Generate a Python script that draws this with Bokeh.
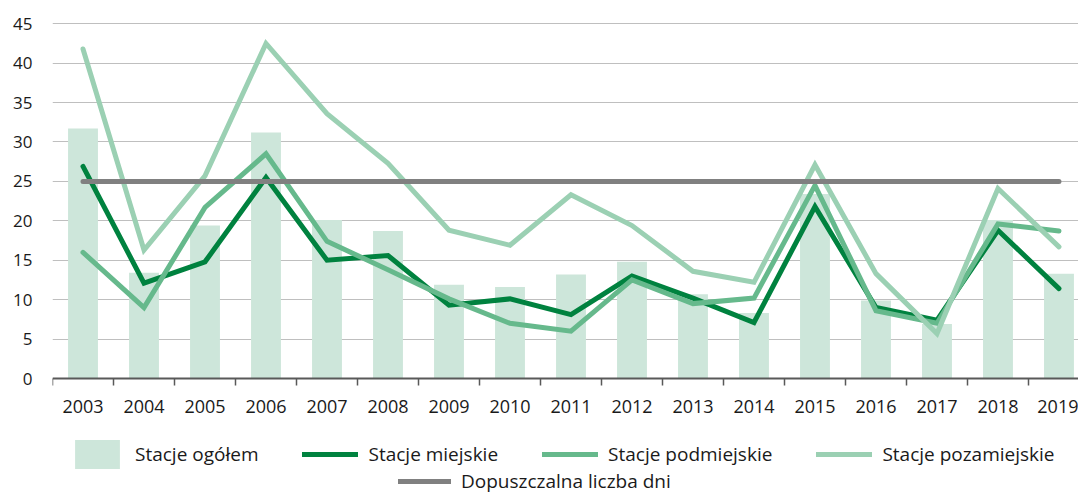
from bokeh.plotting import figure
from bokeh.models import Range1d, FixedTicker, Legend, LegendItem, ColumnDataSource
from bokeh.embed import file_html
from bokeh.resources import INLINE

years = list(range(2003, 2020))
tick_labels = [str(y) for y in years]
y_ticks = [0, 5, 10, 15, 20, 25, 30, 35, 40, 45]

ogolem = [31.7, 13.4, 19.4, 31.2, 20.1, 18.7, 11.9, 11.6, 13.2, 14.8, 10.7, 8.3, 23.4, 9.9, 6.9, 20.1, 13.3]
miejskie = [26.9, 12.1, 14.8, 25.5, 15.0, 15.6, 9.3, 10.1, 8.1, 13.0, 10.2, 7.1, 21.8, 9.0, 7.4, 18.8, 11.4]
podmiejskie = [16.0, 9.0, 21.7, 28.5, 17.4, 13.8, 10.1, 7.0, 6.0, 12.5, 9.5, 10.2, 24.5, 8.6, 7.0, 19.6, 18.7]
pozamiejskie = [41.8, 16.3, 25.7, 42.5, 33.6, 27.3, 18.8, 16.9, 23.3, 19.4, 13.6, 12.2, 27.1, 13.3, 5.7, 24.1, 16.7]
dopuszczalna = [25] * 17

names = ["Stacje ogółem", "Stacje miejskie", "Stacje podmiejskie", "Stacje pozamiejskie",
         "Dopuszczalna liczba dni"]

src = ColumnDataSource(dict(x=years, ogolem=ogolem, miejskie=miejskie, podmiejskie=podmiejskie,
                            pozamiejskie=pozamiejskie, dop=dopuszczalna))

FONT = "Open Sans"
TXT = "#1a1a1a"

# frame spans the whole lower area; the x axis sits at y=0 and legends go below it
p = figure(width=1078, height=495, output_backend="svg", toolbar_location=None,
           x_range=Range1d(2002.5, 2019.32), y_range=Range1d(-14.84, 45.41),
           min_border_left=52, min_border_right=0, min_border_top=20, min_border_bottom=0)
p.outline_line_color = None
p.background_fill_color = "white"
p.border_fill_color = "white"

# grid
p.xgrid.visible = False
p.ygrid.ticker = FixedTicker(ticks=y_ticks[1:])
p.ygrid.grid_line_color = "#bfbfbf"
p.ygrid.grid_line_width = 1

# x axis
p.xaxis.fixed_location = 0
p.xaxis.ticker = FixedTicker(ticks=years, minor_ticks=[y - 0.5 for y in years] + [years[-1] + 0.5])
p.xaxis.major_label_overrides = {y: lab for y, lab in zip(years, tick_labels)}
p.xaxis.axis_line_color = "#595959"
p.xaxis.axis_line_width = 2
p.xaxis.major_tick_line_color = None
p.xaxis.major_tick_out = 0
p.xaxis.major_tick_in = 0
p.xaxis.minor_tick_line_color = "#595959"
p.xaxis.minor_tick_line_width = 1.5
p.xaxis.minor_tick_out = 7
p.xaxis.minor_tick_in = 0
p.xaxis.major_label_standoff = 14
p.xaxis.major_label_text_font = FONT
p.xaxis.major_label_text_font_size = "18px"
p.xaxis.major_label_text_color = TXT

# y axis
p.yaxis.ticker = FixedTicker(ticks=y_ticks)
p.yaxis.axis_line_color = None
p.yaxis.major_tick_line_color = None
p.yaxis.minor_tick_line_color = None
p.yaxis.major_tick_out = 0
p.yaxis.major_tick_in = 0
p.yaxis.major_label_standoff = 20
p.yaxis.major_label_text_font = FONT
p.yaxis.major_label_text_font_size = "17px"
p.yaxis.major_label_text_color = TXT

bars = p.vbar(x="x", top="ogolem", bottom=0, width=0.49, source=src, fill_color="#cde6da", line_color=None)
r1 = p.line("x", "miejskie", source=src, line_color="#00823f", line_width=5,
            line_join="miter", line_cap="round")
r2 = p.line("x", "podmiejskie", source=src, line_color="#66b98c", line_width=5,
            line_join="miter", line_cap="round")
r3 = p.line("x", "pozamiejskie", source=src, line_color="#9bd0b3", line_width=5,
            line_join="miter", line_cap="round")
r4 = p.line("x", "dop", source=src, line_color="#808080", line_width=5, line_cap="round")

def style(lg):
    lg.border_line_color = None
    lg.background_fill_alpha = 0
    lg.label_text_font = FONT
    lg.label_text_font_size = "19px"
    lg.label_text_color = TXT
    lg.padding = 0
    lg.margin = 0
    lg.label_standoff = 10

leg1 = Legend(items=[LegendItem(label=names[0], renderers=[bars]),
                     LegendItem(label=names[1], renderers=[r1]),
                     LegendItem(label=names[2], renderers=[r2]),
                     LegendItem(label=names[3], renderers=[r3])],
              orientation="horizontal", location=(17, 23))
style(leg1)
leg1.glyph_width = 56
leg1.glyph_height = 36
leg1.spacing = 44

leg2 = Legend(items=[LegendItem(label=names[4], renderers=[r4])],
              orientation="horizontal", location=(346, 1))
style(leg2)
leg2.glyph_width = 53
leg2.glyph_height = 22
leg2.label_height = 20

p.add_layout(leg1, "center")
p.add_layout(leg2, "center")

open("out.html", "w").write(file_html(p, INLINE))
